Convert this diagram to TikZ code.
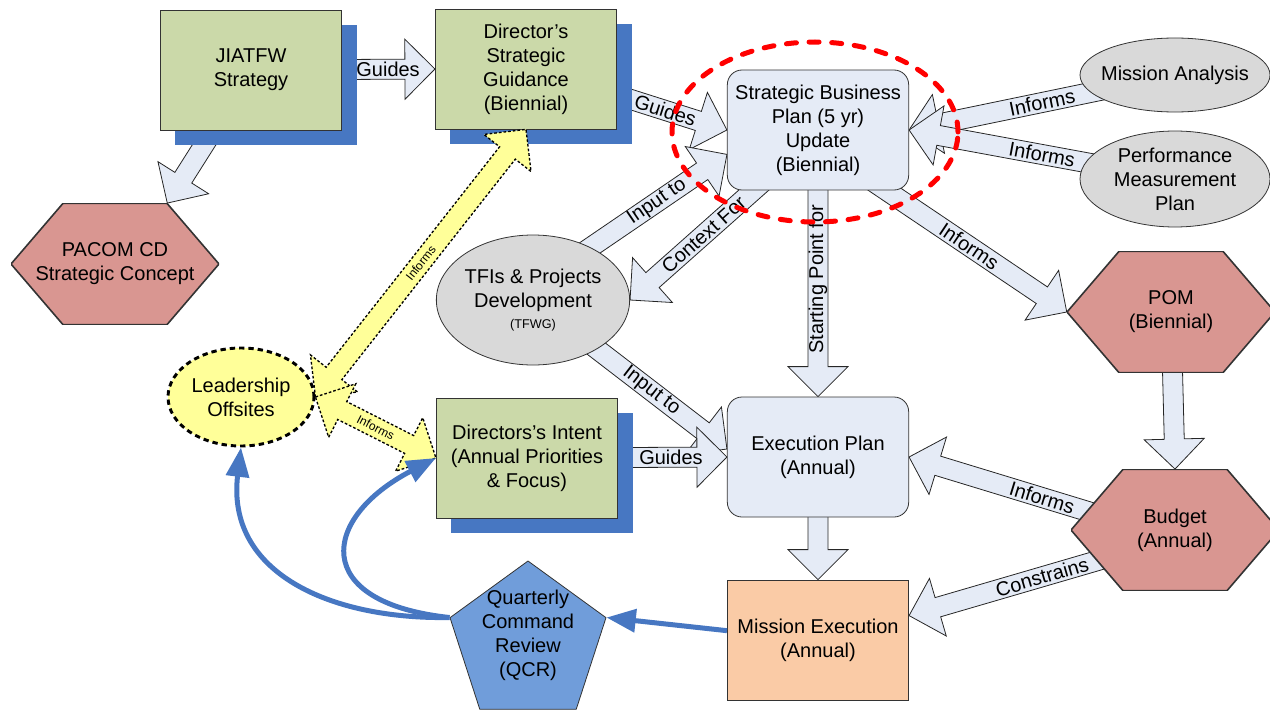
\documentclass[tikz,border=0pt]{standalone}
\usepackage{fontspec}
\setmainfont{Liberation Sans}
\usetikzlibrary{calc}
\usetikzlibrary{shapes.geometric}
\usetikzlibrary{shadows}
\usetikzlibrary{arrows.meta}
\definecolor{boxgreen}{RGB}{203,217,169}
\definecolor{shadowblue}{RGB}{71,119,194}
\definecolor{paleblue}{RGB}{229,235,246}
\definecolor{ovalgray}{RGB}{217,217,217}
\definecolor{hexred}{RGB}{217,150,145}
\definecolor{execorange}{RGB}{250,203,166}
\definecolor{qcrblue}{RGB}{112,157,218}
\definecolor{noteyellow}{RGB}{255,255,153}
\newcommand{\boxfont}{\fontsize{15pt}{18pt}\selectfont}
\newcommand{\notefont}{\fontsize{9pt}{10pt}\selectfont}
\newcommand{\tfwgfont}{\fontsize{9.5pt}{11pt}\selectfont}
\newcommand{\shaftw}{7.5pt}
\newcommand{\headw}{22.5pt}
\newcommand{\headl}{22.5pt}
\newcommand{\hexcut}{39pt}
% block arrow from #2 to #3, label #4 with node options #1
\newcommand{\fatarrow}[4][]{%
    \coordinate (fa-s) at (#2);
    \coordinate (fa-e) at (#3);
    \coordinate (fa-b) at ($(fa-e)!\headl!(fa-s)$);
    \draw[fat] ($(fa-s)!\shaftw!90:(fa-e)$) -- ($(fa-b)!\shaftw!-90:(fa-s)$) -- ($(fa-b)!\headw!-90:(fa-s)$)
        -- (fa-e) -- ($(fa-b)!\headw!90:(fa-s)$) -- ($(fa-b)!\shaftw!90:(fa-s)$) -- ($(fa-s)!\shaftw!-90:(fa-e)$) -- cycle;
    \path (fa-s) -- node[fatlabel, #1] {#4} (fa-e);
}
% two-headed block arrow
\newcommand{\twowayarrow}[4][]{%
    \coordinate (fa-s) at (#2);
    \coordinate (fa-e) at (#3);
    \coordinate (fa-a) at ($(fa-s)!\headl!(fa-e)$);
    \coordinate (fa-b) at ($(fa-e)!\headl!(fa-s)$);
    \draw[notefat] (fa-s) -- ($(fa-a)!\headw!90:(fa-e)$) -- ($(fa-a)!\shaftw!90:(fa-e)$) -- ($(fa-b)!\shaftw!-90:(fa-s)$)
        -- ($(fa-b)!\headw!-90:(fa-s)$) -- (fa-e) -- ($(fa-b)!\headw!90:(fa-s)$) -- ($(fa-b)!\shaftw!90:(fa-s)$)
        -- ($(fa-a)!\shaftw!-90:(fa-e)$) -- ($(fa-a)!\headw!-90:(fa-e)$) -- cycle;
    \path (fa-s) -- node[notelabel, #1] {#4} (fa-e);
}
\pgfdeclarelayer{background}
\pgfsetlayers{background,main}
\tikzset{
    common/.style={draw=black!80, line width=0.6pt, align=center, font=\boxfont, inner sep=2pt},
    plan/.style={common, rectangle, minimum width=136pt, minimum height=90pt},
    greenplan/.style={plan, fill=boxgreen, drop shadow={shadow xshift=11.25pt, shadow yshift=-11.25pt, fill=shadowblue, opacity=1}},
    roundplan/.style={plan, rounded corners=11pt, fill=paleblue},
    oval/.style={common, ellipse, inner sep=0pt, fill=ovalgray},
    offsite/.style={common, ellipse, inner sep=0pt, fill=noteyellow, draw=black, line width=2.2pt,
        dash pattern=on 4pt off 3pt, minimum width=109.5pt, minimum height=73.5pt},
    hexa/.style={align=center, font=\boxfont, inner sep=0pt, minimum width=156pt, minimum height=91pt,
        path picture={
            \draw[draw=black!80, line width=1.2pt, fill=hexred]
                (path picture bounding box.west)
                -- ([xshift=\hexcut]path picture bounding box.north west)
                -- ([xshift=-\hexcut]path picture bounding box.north east)
                -- (path picture bounding box.east)
                -- ([xshift=-\hexcut]path picture bounding box.south east)
                -- ([xshift=\hexcut]path picture bounding box.south west)
                -- cycle;
        }},
    qcr/.style={common, regular polygon, regular polygon sides=5, minimum size=123pt, inner sep=0pt, fill=qcrblue},
    qcrtext/.style={align=center, font=\boxfont, yshift=6pt},
    focusring/.style={ellipse, draw=red, line width=3.75pt, dash pattern=on 7.5pt off 9.5pt, line cap=round,
        minimum width=214.5pt, minimum height=135pt},
    fat/.style={draw=black!85, line width=0.6pt, fill=paleblue},
    fatlabel/.style={font=\boxfont, sloped, inner sep=0pt},
    notefat/.style={draw=black, line width=1pt, dash pattern=on 2pt off 1.5pt, fill=noteyellow},
    notelabel/.style={font=\notefont, sloped, inner sep=0pt},
    feedback/.style={draw=shadowblue, line width=3.75pt, -{Triangle[length=22pt, width=17pt]}}
}
\begin{document}
\begin{tikzpicture}[x=0.75pt, y=-0.75pt]
    \useasboundingbox (0,0) rectangle (1270,710);

    % boxes
    \path
        (251,70) node[greenplan] (jiatfw) {JIATFW\\Strategy}
        (526,69) node[greenplan] (dsg) {Director’s\\Strategic\\Guidance\\(Biennial)}
        (818,130) node[roundplan] (sbp) {Strategic Business\\Plan (5 yr)\\Update\\(Biennial)}
        (818,457) node[roundplan] (exec) {Execution Plan\\(Annual)}
        (818,640) node[plan, fill=execorange] (mexec) {Mission Execution\\(Annual)}
        (527,458) node[greenplan] (intent) {Directors’s Intent\\(Annual Priorities\\\& Focus)};

    % ovals
    \path
        (1175,75) node[oval, inner xsep=-8pt, minimum width=142.5pt, minimum height=55.5pt] (ma) {Mission Analysis}
        (1175,179) node[oval, minimum width=142.5pt, minimum height=72pt] (pmp) {Performance\\Measurement\\Plan}
        (533,300) node[oval, minimum width=144pt, minimum height=97.5pt] (tfi) {TFIs \& Projects\\Development\\[-2pt]{\tfwgfont (TFWG)}}
        (241,397) node[offsite] (lead) {Leadership\\Offsites};

    % hexagons
    \path
        (115,264) node[hexa] (pacom) {PACOM CD\\Strategic Concept}
        (1171,312) node[hexa] (pom) {POM\\(Biennial)}
        (1175,530) node[hexa] (budget) {Budget\\(Annual)};

    \node[qcr, label={[qcrtext]center:Quarterly\\Command\\Review\\(QCR)}] (qcr) at (528,643) {};

    \begin{pgfonlayer}{background}
        \fatarrow[pos=0.745]{jiatfw.center}{dsg.west}{Guides}
        \fatarrow[pos=0.5]{jiatfw.-122}{[xshift=-\hexcut]pacom.north east}{}
        \fatarrow[pos=0.44]{dsg.-16}{sbp.west}{Guides}
        \fatarrow[pos=0.5]{ma.center}{sbp.east}{Informs}
        \fatarrow[pos=0.5]{pmp.center}{sbp.east}{Informs}
        \fatarrow[pos=0.55]{[xshift=24pt, yshift=-27pt]sbp.center}{pom.west}{Informs}
        \fatarrow[pos=0.56, rotate=180]{sbp.center}{exec.north}{Starting Point for}
        \fatarrow[pos=0.54]{[xshift=-21pt, yshift=-21pt]sbp.center}{tfi.east}{Context For}
        \fatarrow[pos=0.64]{[yshift=10pt]tfi.center}{sbp.-165}{Input to}
        \fatarrow[pos=0.61]{tfi.center}{exec.175}{Input to}
        \fatarrow[pos=0.72]{intent.center}{exec.west}{Guides}
        \fatarrow[pos=0.5]{[yshift=-6pt]budget.center}{exec.east}{Informs}
        \fatarrow[pos=0.5]{[yshift=-6pt]budget.center}{mexec.15}{Constrains}
        \fatarrow{pom.center}{budget.north}{}
        \fatarrow{exec.center}{mexec.north}{}
    \end{pgfonlayer}

    \twowayarrow[pos=0.5]{lead.east}{dsg.south}{Informs}
    \twowayarrow[pos=0.5]{lead.east}{intent.west}{Informs}

    \draw[feedback] (qcr.corner 2) .. controls +(-120,2) and +(-15,125) .. (lead.south);
    \draw[feedback] (qcr.corner 2) .. controls +(-140,-15) and +(-115,60) .. (intent.west);
    \draw[feedback] ([yshift=7pt]mexec.west) -- (qcr.corner 5);

    \node[focusring] (focus) at (815,132) {};
\end{tikzpicture}
\end{document}
